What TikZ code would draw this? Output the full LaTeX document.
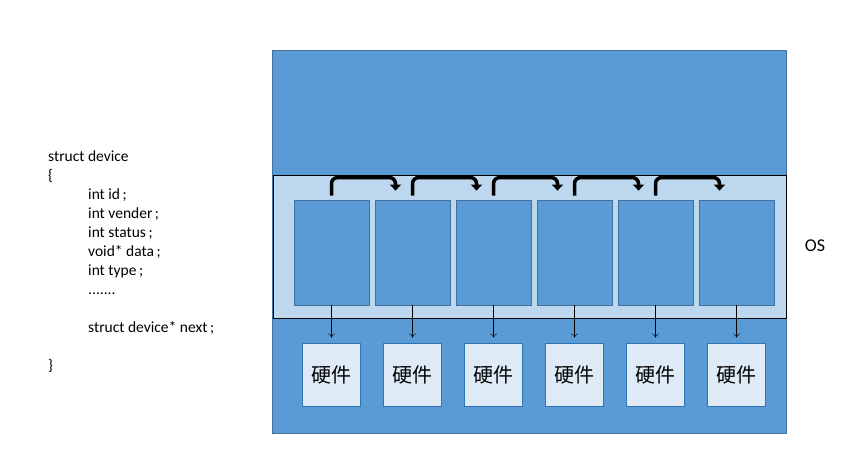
\documentclass[tikz,border=0pt]{standalone}
\usepackage{fontspec}
\setmainfont{Carlito}
\newfontfamily\cjk{Noto Sans CJK SC}
\usetikzlibrary{positioning, arrows.meta}
\definecolor{osblue}{HTML}{5B9BD5}
\definecolor{osedge}{HTML}{41719C}
\definecolor{bandblue}{HTML}{BDD7EE}
\definecolor{hwfill}{HTML}{DEEBF7}
\definecolor{hwedge}{HTML}{2E75B6}

\begin{document}
\begin{tikzpicture}[x=1pt, y=-1pt,
    slot/.style={rectangle, draw=osedge, fill=osblue, line width=0.8pt,
      minimum width=75pt, minimum height=105pt, inner sep=0pt},
    hw/.style={rectangle, draw=hwedge, fill=hwfill, line width=0.8pt,
      minimum width=58pt, minimum height=63pt, inner sep=0pt,
      font=\cjk\fontsize{20}{24}\selectfont},
    hop/.style={line width=3.5pt, rounded corners=6pt,
      -{Triangle[length=6pt, width=11pt]}},
    down/.style={->, >={To[length=4pt, width=7pt]}, shorten >=5pt}]
    \useasboundingbox (0, 0) rectangle (854, 467);
    % the OS frame and the band that holds the list
    \node (host) [rectangle, draw=osedge, fill=osblue, minimum width=514pt,
      minimum height=383pt] at (529, 241.5) {};
    \node (band) [rectangle, draw=black, fill=bandblue, line width=0.8pt,
      minimum width=513pt, minimum height=143pt] at (529.5, 246.5) {};
    \node (os) [font=\fontsize{18}{22}\selectfont] at (815, 246) {OS};
    \begin{scope}[every node/.style={slot}]
      \node (b1) at (331.5, 252.5) {};
      \node (b2) at (412.5, 252.5) {};
      \node (b3) at (493.5, 252.5) {};
      \node (b4) at (574.5, 252.5) {};
      \node (b5) at (655.5, 252.5) {};
      \node (b6) at (736.5, 252.5) {};
    \end{scope}
    \begin{scope}[every node/.style={hw}]
      \node (h1) at (331, 374.5) {硬件};
      \node (h2) at (412, 374.5) {硬件};
      \node (h3) at (493, 374.5) {硬件};
      \node (h4) at (574, 374.5) {硬件};
      \node (h5) at (655, 374.5) {硬件};
      \node (h6) at (736, 374.5) {硬件};
    \end{scope}
    % next pointers
    \draw[hop] ([yshift=4pt]b1.north) -- ([yshift=22pt]b1.north)
      -- ([xshift=-17pt, yshift=22pt]b2.north) -- ([xshift=-17pt, yshift=9pt]b2.north);
    \draw[hop] ([yshift=4pt]b2.north) -- ([yshift=22pt]b2.north)
      -- ([xshift=-17pt, yshift=22pt]b3.north) -- ([xshift=-17pt, yshift=9pt]b3.north);
    \draw[hop] ([yshift=4pt]b3.north) -- ([yshift=22pt]b3.north)
      -- ([xshift=-17pt, yshift=22pt]b4.north) -- ([xshift=-17pt, yshift=9pt]b4.north);
    \draw[hop] ([yshift=4pt]b4.north) -- ([yshift=22pt]b4.north)
      -- ([xshift=-17pt, yshift=22pt]b5.north) -- ([xshift=-17pt, yshift=9pt]b5.north);
    \draw[hop] ([yshift=4pt]b5.north) -- ([yshift=22pt]b5.north)
      -- ([xshift=-17pt, yshift=22pt]b6.north) -- ([xshift=-17pt, yshift=9pt]b6.north);
    % each slot drives its hardware
    \draw[down] (b1.south) -- (b1.south |- h1.north);
    \draw[down] (b2.south) -- (b2.south |- h2.north);
    \draw[down] (b3.south) -- (b3.south |- h3.north);
    \draw[down] (b4.south) -- (b4.south |- h4.north);
    \draw[down] (b5.south) -- (b5.south |- h5.north);
    \draw[down] (b6.south) -- (b6.south |- h6.north);
    % the struct
    \node (code) [anchor=north west, align=left, inner sep=0pt,
      font=\fontsize{15.5}{19}\selectfont] at (48, 151) {%
      struct device\\
      \{\\
      \hspace*{40pt}int id\,;\\
      \hspace*{40pt}int vender\,;\\
      \hspace*{40pt}int status\,;\\
      \hspace*{40pt}void* data\,;\\
      \hspace*{40pt}int type\,;\\
      \hspace*{40pt}.......\\
      ~\\
      \hspace*{40pt}struct device* next\,;\\
      ~\\
      \}};
\end{tikzpicture}
\end{document}
